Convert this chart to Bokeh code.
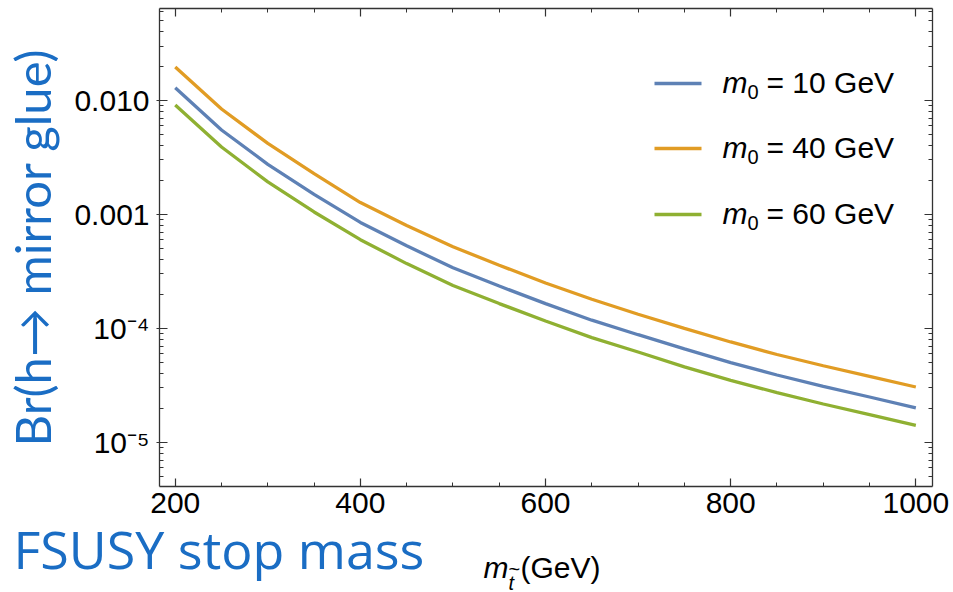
import math
from bokeh.plotting import figure
from bokeh.models import FixedTicker, LinearAxis, LogAxis, Label, Range1d, BoxAnnotation
from bokeh.embed import file_html
from bokeh.resources import INLINE

# ---------------- data ----------------
stop_mass = [200, 250, 300, 350, 400, 450, 500, 550, 600, 650, 700, 750, 800, 850, 900, 950, 1000]
br_m0_10 = [0.0129, 0.0055, 0.00275, 0.00150, 0.00085, 0.00053, 0.00034, 0.000235, 0.000165,
            0.000118, 0.000088, 0.000066, 0.000050, 0.000039, 0.000031, 0.000025, 0.0000201]
br_m0_40 = [0.0196, 0.0084, 0.0042, 0.00228, 0.00127, 0.00080, 0.00052, 0.000358, 0.000250,
            0.000180, 0.000133, 0.000100, 0.000076, 0.000059, 0.000047, 0.000038, 0.0000306]
br_m0_60 = [0.0091, 0.0039, 0.00193, 0.00105, 0.00060, 0.00037, 0.000238, 0.000165, 0.000116,
            0.000083, 0.000062, 0.000046, 0.000035, 0.0000273, 0.0000217, 0.0000175, 0.0000141]
series_m0 = ["10", "40", "60"]
series_colors = ["#5E81B5", "#E19C24", "#8FB032"]

x_major = [200, 400, 600, 800, 1000]
x_minor = [250, 300, 350, 450, 500, 550, 650, 700, 750, 850, 900, 950]
y_major = [1e-5, 1e-4, 1e-3, 1e-2]
y_major_labels = ["10\u207b\u2075", "10\u207b\u2074", "0.001", "0.010"]
y_minor = [m * 10.0 ** e for e in (-6, -5, -4, -3, -2) for m in range(2, 10)]

W, H = 952, 591
H_MAIN = 530                     # main plot height; the rest holds the x-axis caption
BLUE_TXT = "#1A6DC4"
TICK_FONT = "Liberation Sans"

p = figure(width=W, height=H_MAIN, output_backend="svg", toolbar_location=None,
           y_axis_type="log", x_range=Range1d(183, 1018), y_range=Range1d(4.1e-6, 0.064),
           min_border_left=158, min_border_right=W - 932, min_border_top=8,
           min_border_bottom=H_MAIN - 486)
p.xgrid.visible = False
p.ygrid.visible = False
p.outline_line_color = None
p.background_fill_color = "white"
p.border_fill_color = "white"

for ys, col in zip([br_m0_10, br_m0_40, br_m0_60], series_colors):
    p.line(stop_mass, ys, line_color=col, line_width=3.3)


def style_axis(ax):
    ax.axis_line_color = "#333333"
    ax.axis_line_width = 1.3
    ax.major_tick_line_color = "#333333"
    ax.minor_tick_line_color = "#333333"
    ax.major_tick_line_width = 1.2
    ax.minor_tick_line_width = 1.0
    ax.major_tick_in = 8
    ax.major_tick_out = 0
    ax.minor_tick_in = 4
    ax.minor_tick_out = 0
    ax.major_label_text_font = TICK_FONT
    ax.major_label_text_color = "black"
    ax.major_label_text_font_size = "30px"


xa = p.xaxis[0]
xa.ticker = FixedTicker(ticks=x_major, minor_ticks=x_minor)
style_axis(xa)
xa.major_label_standoff = 6

ya = p.yaxis[0]
ya.ticker = FixedTicker(ticks=y_major, minor_ticks=y_minor)
style_axis(ya)
ya.major_tick_out = 3
ya.major_label_standoff = 7
ya.major_label_overrides = {v: s for v, s in zip(y_major, y_major_labels)}
ya.axis_label = "Br(h\u2192 mirror glue)"
ya.axis_label_text_font = "Lato"
ya.axis_label_text_font_size = "49px"
ya.axis_label_text_font_style = "normal"
ya.axis_label_text_color = BLUE_TXT
ya.axis_label_standoff = 10

# frame ticks on top and right (no labels)
for ax, loc, ticks, minor in ((LinearAxis(), "above", x_major, x_minor),
                              (LogAxis(), "right", y_major, y_minor)):
    ax.ticker = FixedTicker(ticks=ticks, minor_ticks=minor)
    style_axis(ax)
    ax.major_label_text_font_size = "1px"
    ax.major_label_text_alpha = 0
    ax.major_label_standoff = 0
    ax.major_label_overrides = {v: "" for v in ticks}
    p.add_layout(ax, loc)

# vertical offset of a label's anchor above the text baseline, per font (in em)
MID = {"Liberation Sans": 0.35, "Open Sans": 0.39, "Lato": 0.39}


def make_label(text, xp, baseline, size_px, color="black", font=TICK_FONT, style="normal"):
    # canvas units: pixels from the top-left corner of the canvas
    y = baseline - MID[font] * size_px
    return Label(x=xp, y=y, x_units="canvas", y_units="canvas", text=text,
                 text_font=font, text_font_size=f"{size_px}px", text_color=color,
                 text_font_style=style, text_baseline="alphabetic", text_align="left")


# legend (inside the frame)
row_line_y = [83, 148, 214]
for m0, col, ly in zip(series_m0, series_colors, row_line_y):
    p.add_layout(BoxAnnotation(left=654, right=701, top=ly - 1.7, bottom=ly + 1.7,
                               left_units="canvas", right_units="canvas",
                               top_units="canvas", bottom_units="canvas",
                               fill_color=col, fill_alpha=1.0, line_color=None))
    p.add_layout(make_label("m", 722, ly + 9, 30, style="italic"))
    p.add_layout(make_label("0", 747, ly + 15, 20))
    p.add_layout(make_label("= " + m0 + " GeV", 766, ly + 9, 30))

# caption strip below the plot (x-axis title pieces); a separate root, so its
# frame is the full strip and nothing is clipped
cap = figure(width=W, height=H - H_MAIN, output_backend="svg", toolbar_location=None,
             x_range=Range1d(0, 1), y_range=Range1d(0, 1),
             x_axis_location=None, y_axis_location=None,
             min_border=0, min_border_left=0, min_border_right=0,
             min_border_top=0, min_border_bottom=0)
cap.xgrid.visible = False
cap.ygrid.visible = False
cap.outline_line_color = None
cap.border_fill_color = "white"
cap.background_fill_color = "white"

Y0 = H_MAIN
cap.add_layout(make_label("FSUSY stop mass", 13, 568 - Y0, 52, color=BLUE_TXT, font="Open Sans"))
cap.add_layout(make_label("m", 483, 577 - Y0, 30, style="italic"))
cap.add_layout(make_label("t", 508, 589 - Y0, 20, style="italic"))
cap.add_layout(make_label("~", 508, 575 - Y0, 20))
cap.add_layout(make_label("(GeV)", 520, 577 - Y0, 30))

open("out.html", "w").write(file_html([p, cap], INLINE))
